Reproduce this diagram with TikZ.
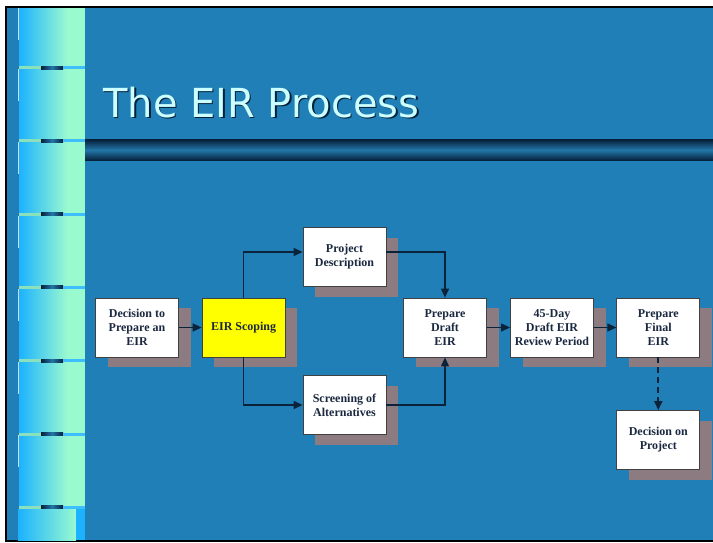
\documentclass[tikz,border=0pt]{standalone}
\usepackage{fontspec}
\setmainfont{Liberation Serif}
\newfontfamily\titlefont{DejaVu Sans}
\usepackage{tikz}
\usetikzlibrary{arrows.meta, positioning, shadows}
\definecolor{slideblue}{RGB}{32,127,182}
\definecolor{stripblue}{RGB}{28,178,255}
\definecolor{stripmint}{RGB}{153,250,208}
\definecolor{barnavy}{RGB}{6,32,58}
\definecolor{barmid}{RGB}{34,118,168}
\definecolor{titlecyan}{RGB}{204,255,255}
\definecolor{boxshadow}{RGB}{140,124,130}
\definecolor{linknavy}{RGB}{10,34,58}
\definecolor{textnavy}{RGB}{26,40,64}
\definecolor{scopeyellow}{RGB}{255,255,0}

\begin{document}
\begin{tikzpicture}[x=1pt, y=-1pt,
    stepbox/.style={draw=black!75, line width=0.8pt, fill=white, minimum width=83pt, minimum height=59pt,
        inner sep=2pt, align=center, text=textnavy, font=\bfseries\fontsize{12}{14}\selectfont,
        drop shadow={shadow xshift=12pt, shadow yshift=-10pt, fill=boxshadow, opacity=1}},
    link/.style={draw=linknavy, line width=1.2pt, -{Triangle[length=9pt,width=8pt]}}]
    \useasboundingbox (0,0) rectangle (713,542);

    % Slide background and frame
    \fill[white] (0,0) rectangle (713,542);
    \fill[slideblue] (5,6) rectangle (713,542);
    \draw[black, line width=2pt] (713,7) -- (6,7) -- (6,541) -- (713,541);

    % Left strip
    \shade[left color=stripblue, right color=stripmint] (19,8) rectangle (67,509);
    \fill[stripmint] (67,8) rectangle (85,509);
    \foreach \k in {0,...,6} {
        \fill[stripmint!90!black] (19,{66+73.3*\k}) rectangle (41,{69+73.3*\k});
        \shade[left color=barnavy, right color=barnavy, middle color=barmid] (41,{66+73.3*\k}) rectangle (63,{69+73.3*\k});
        \fill[stripblue!85!white] (63,{66+73.3*\k}) rectangle (85,{69+73.3*\k});
    }
    \shade[left color=stripblue, right color=stripmint] (18,509) rectangle (76,540);
    \fill[stripblue] (76,509) rectangle (85,540);
    \foreach \t in {8,69,142,216,289,362,435} {
        \draw[white!75!slideblue, line width=0.7pt] (18,\t) -- (18,{\t+32});
    }

    % Title and title bar
    \node[anchor=base west, inner sep=0pt, text=barnavy, font=\titlefont\fontsize{40}{42}\selectfont] (titleshadow) at (104.5,118.5) {The EIR Process};
    \node[anchor=base west, inner sep=0pt, text=titlecyan, font=\titlefont\fontsize{40}{42}\selectfont] (title) at (103,117) {The EIR Process};
    \shade[top color=barnavy, bottom color=barnavy, middle color=barmid] (85,139.5) rectangle (713,160.5);

    % Process steps
    \node[stepbox] (decide) at (137,327.5) {Decision to\\Prepare an\\EIR};
    \node[stepbox, fill=scopeyellow] (scoping) at (243.6,327.5) {EIR Scoping};
    \node[stepbox] (projdesc) at (344.5,257) {Project\\Description};
    \node[stepbox] (screening) at (344.5,405) {Screening of\\Alternatives};
    \node[stepbox] (draft) at (445,327.5) {Prepare\\Draft\\EIR};
    \node[stepbox] (review) at (552,327.5) {45-Day\\Draft EIR\\Review Period};
    \node[stepbox] (final) at (658.3,327.5) {Prepare\\Final\\EIR};
    \node[stepbox] (decproj) at (658.3,440) {Decision on\\Project};

    % Connectors
    \draw[link] (decide) -- (scoping);
    \draw[link] (scoping.north) |- ([yshift=5pt]projdesc.west);
    \draw[link] (scoping.south) |- (screening.west);
    \draw[link] ([yshift=5pt]projdesc.east) -| (draft.north);
    \draw[link] (screening.east) -| (draft.south);
    \draw[link] (draft) -- (review);
    \draw[link] (review) -- (final);
    \draw[link, line width=2pt, dash pattern=on 6pt off 4pt] (final) -- (decproj);
\end{tikzpicture}
\end{document}
